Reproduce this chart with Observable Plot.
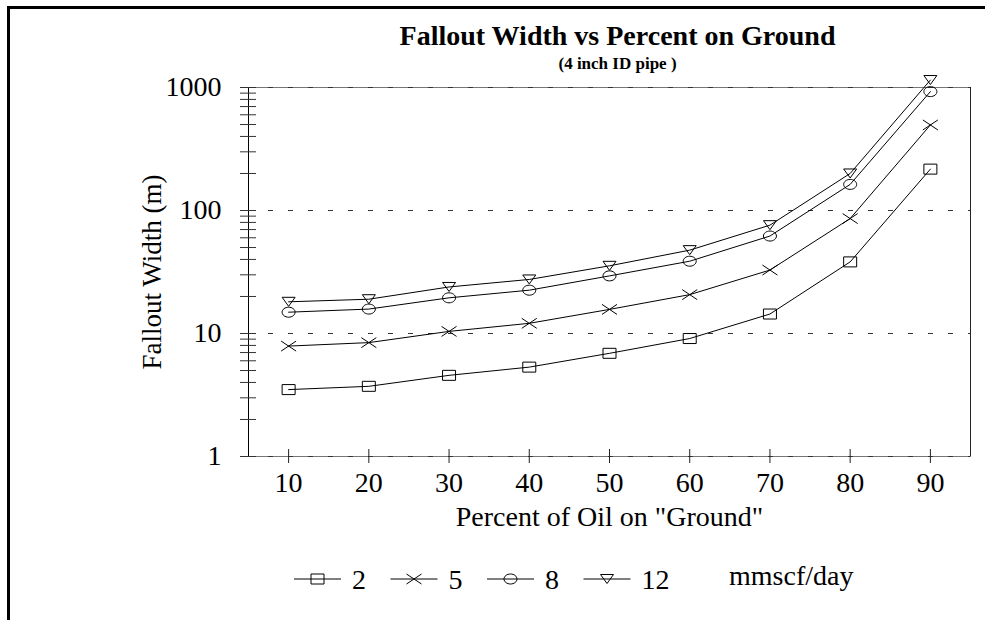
<!DOCTYPE html>
<html><head><meta charset="utf-8">
<script src="https://cdn.jsdelivr.net/npm/d3@7"></script>
<script src="https://cdn.jsdelivr.net/npm/@observablehq/plot@0.6"></script>
<style>
html,body{margin:0;padding:0;background:#fff;}
#wrap{position:relative;width:985px;height:620px;overflow:hidden;font-family:"Liberation Serif","Times New Roman",serif;background:#fff;}
#border{position:absolute;left:7px;top:6px;right:0;bottom:0;border-top:3px solid #000;border-left:3px solid #000;pointer-events:none;}
#chart{position:absolute;left:0;top:0;}
#legend{position:absolute;left:0;top:555px;}
</style></head><body>
<div id="wrap"><div id="chart"></div><svg id="legend" width="985" height="50"></svg><div id="border"></div></div>
<script>
const percent = [10, 20, 30, 40, 50, 60, 70, 80, 90];
const flow2  = [3.5, 3.72, 4.57, 5.33, 6.9, 9.1, 14.4, 38.2, 217];
const flow5  = [7.9, 8.43, 10.4, 12.1, 15.7, 20.7, 32.8, 86, 496];
const flow8  = [14.9, 15.8, 19.5, 22.5, 29.4, 38.7, 62, 163, 926];
const flow12 = [18.1, 19.0, 23.9, 27.5, 35.5, 47.6, 76, 200, 1150];
const seriesLabels = ["2", "5", "8", "12"];
const seriesValues = [flow2, flow5, flow8, flow12];
const legendUnit = "mmscf/day";
const titleText = "Fallout Width vs Percent on Ground";
const subtitleText = "(4 inch ID pipe )";
const xTitle = "Percent of Oil on \"Ground\"";
const yTitle = "Fallout Width (m)";
const xTickValues = [10, 20, 30, 40, 50, 60, 70, 80, 90];
const yLabelTicks = [1, 10, 100, 1000];
const xDomain = [5, 95];
const yDomain = [1, 1000];
const yAllTicks = [1,2,3,4,5,6,7,8,9,10,20,30,40,50,60,70,80,90,100,200,300,400,500,600,700,800,900,1000];

const K = 0.5523;
const symSquare = {draw(c){c.moveTo(-6.5,-5);c.lineTo(6.5,-5);c.lineTo(6.5,5);c.lineTo(-6.5,5);c.closePath();}};
const symX = {draw(c){c.moveTo(-7.5,-5);c.lineTo(7.5,5);c.moveTo(-7.5,5);c.lineTo(7.5,-5);}};
const symEllipse = {draw(c){const rx=6.5, ry=5; c.moveTo(rx,0);
  c.bezierCurveTo(rx, ry*K, rx*K, ry, 0, ry); c.bezierCurveTo(-rx*K, ry, -rx, ry*K, -rx, 0);
  c.bezierCurveTo(-rx, -ry*K, -rx*K, -ry, 0, -ry); c.bezierCurveTo(rx*K, -ry, rx, -ry*K, rx, 0); c.closePath();}};
const symTri = {draw(c){c.moveTo(-6.5,-4.5);c.lineTo(6.5,-4.5);c.lineTo(0,4.5);c.closePath();}};
const symbols = [symSquare, symX, symEllipse, symTri];

const rows = seriesLabels.flatMap((s, i) => percent.map((p, j) => ({series: s, pct: p, value: seriesValues[i][j]})));

const font = "Liberation Serif, Times New Roman, serif";
const chart = Plot.plot({
  width: 985, height: 620,
  marginLeft: 248, marginRight: 15, marginTop: 87, marginBottom: 164,
  style: {fontFamily: font, fontSize: "28px", color: "#000", background: "transparent"},
  x: {domain: xDomain},
  y: {type: "log", domain: yDomain},
  marks: [
    Plot.frame({stroke: "#777"}),
    Plot.ruleY(yLabelTicks, {stroke: "#333", strokeDasharray: "5,15"}),
    Plot.ruleX(xDomain.slice(0,1), {stroke: "#000"}),
    Plot.ruleX(xDomain.slice(1), {stroke: "#222"}),
    Plot.ruleY(yAllTicks, {y: d => d, x1: xDomain[0], x2: xDomain[0], insetLeft: -8, insetRight: -8, stroke: "#333"}),
    Plot.ruleX(xTickValues, {x: d => d, y1: yDomain[0], y2: yDomain[0], insetTop: -7, insetBottom: -7, stroke: "#222"}),
    Plot.axisY(yLabelTicks, {tickSize: 0, tickPadding: 27, fontSize: 28, label: null, tickFormat: d => String(d)}),
    Plot.axisX(xTickValues, {tickSize: 0, tickPadding: 16, fontSize: 28, label: null}),
    Plot.line(rows, {x: "pct", y: "value", z: "series", stroke: "#000", strokeWidth: 1}),
    ...seriesLabels.map((s, i) => Plot.dot(rows.filter(d => d.series === s), {x: "pct", y: "value", symbol: symbols[i], stroke: "#000", fill: "none", strokeWidth: 1})),
    Plot.text([yTitle], {frameAnchor: "left", textAnchor: "middle", lineAnchor: "middle", rotate: -90, dx: -96, fontSize: 27}),
    Plot.text([xTitle], {frameAnchor: "bottom", textAnchor: "middle", lineAnchor: "middle", dy: 61, fontSize: 28}),
    Plot.text([titleText], {frameAnchor: "top", textAnchor: "middle", lineAnchor: "middle", dx: 8, dy: -51, fontSize: 28, fontWeight: "bold"}),
    Plot.text([subtitleText], {frameAnchor: "top", textAnchor: "middle", lineAnchor: "middle", dx: 8, dy: -24, fontSize: 17, fontWeight: "bold"})
  ]
});
document.getElementById("chart").appendChild(chart);

// legend
const lg = d3.select("#legend");
const cy = 24;
seriesLabels.forEach((s, i) => {
  const x0 = 294 + i * 96.5;
  lg.append("line").attr("x1", x0).attr("x2", x0 + 47).attr("y1", cy).attr("y2", cy).attr("stroke", "#000");
  const p = d3.path(); symbols[i].draw(p);
  lg.append("path").attr("d", p.toString()).attr("transform", `translate(${x0 + 23.5},${cy})`).attr("fill", "none").attr("stroke", "#000");
  lg.append("text").attr("x", x0 + 58).attr("y", cy).attr("dy", "0.35em").attr("font-family", font).attr("font-size", 28).text(s);
});
lg.append("text").attr("x", 729).attr("y", cy - 4).attr("dy", "0.35em").attr("font-family", font).attr("font-size", 28).text(legendUnit);
</script>
</body></html>
